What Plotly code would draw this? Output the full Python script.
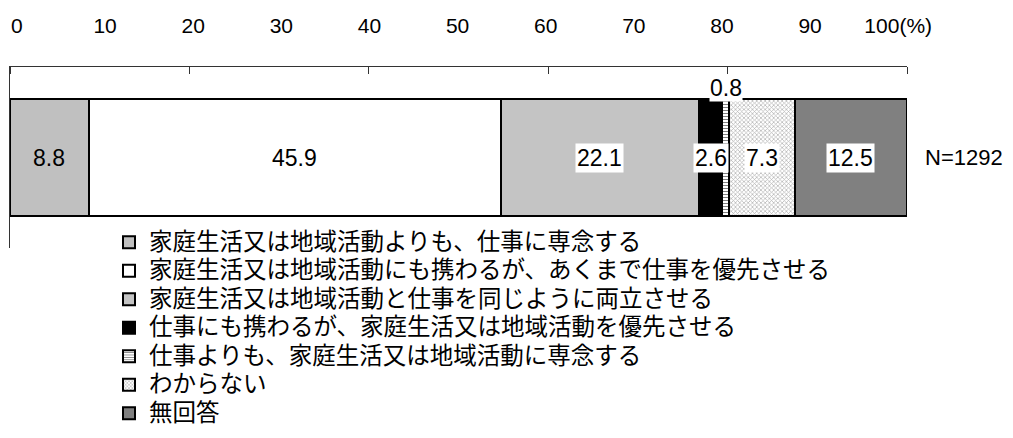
import plotly.graph_objects as go

categories = ["家庭生活又は地域活動よりも、仕事に専念する",
              "家庭生活又は地域活動にも携わるが、あくまで仕事を優先させる",
              "家庭生活又は地域活動と仕事を同じように両立させる",
              "仕事にも携わるが、家庭生活又は地域活動を優先させる",
              "仕事よりも、家庭生活又は地域活動に専念する",
              "わからない",
              "無回答"]
values = [8.8, 45.9, 22.1, 2.6, 0.8, 7.3, 12.5]
tick_values = [0, 10, 20, 30, 40, 50, 60, 70, 80, 90, 100]
tick_labels = ["0", "10", "20", "30", "40", "50", "60", "70", "80", "90", "100(%)"]
sample_label = "N=1292"

styles = [
    dict(color="#c0c0c0"),
    dict(color="#ffffff"),
    dict(color="#ffffff", pattern=dict(shape=".", fgcolor="#555555", size=2, solidity=0.7)),
    dict(color="#000000"),
    dict(color="#ffffff", pattern=dict(shape="-", fgcolor="#000000", size=3, solidity=0.35)),
    dict(color="#ffffff", pattern=dict(shape="x", fgcolor="#606060", size=3, solidity=0.4)),
    dict(color="#808080"),
]

BAR_W = 0.65
fig = go.Figure()
for name, v, st in zip(categories, values, styles):
    fig.add_trace(go.Bar(
        y=[0], x=[v], name=f'<span style="font-size:23.5px">{name}</span>',
        orientation="h", width=BAR_W,
        marker=dict(line=dict(color="black", width=2), **st),
        hovertemplate=f"{name}: %{{x}}<extra></extra>",
    ))

# invisible trace so that the header label axis (x2) is drawn
fig.add_trace(go.Scatter(x=[None], y=[None], xaxis="x2", yaxis="y", mode="markers",
                         showlegend=False, hoverinfo="skip"))

LABEL_FONT = dict(family="Liberation Sans, Arial", size=23, color="black")
cum = 0
label_bg = ["rgba(0,0,0,0)", "rgba(0,0,0,0)", "white", "white", "white", "white", "white"]
for i, v in enumerate(values):
    mid = cum + v / 2
    cum += v
    if v < 1.5:
        fig.add_annotation(x=mid, y=BAR_W / 2, text=f"{v:.1f}", showarrow=False,
                           yanchor="middle", yshift=11, bgcolor="white", borderpad=0,
                           font=LABEL_FONT)
    else:
        fig.add_annotation(x=mid, y=0, text=f"{v:.1f}", showarrow=False,
                           bgcolor=label_bg[i], borderpad=1, font=LABEL_FONT)

fig.add_annotation(x=1, xref="paper", y=0, text=sample_label, showarrow=False,
                   xanchor="left", xshift=16,
                   font=dict(family="Liberation Sans, Arial", size=22, color="black"))

fig.update_layout(
    barmode="stack",
    width=1005, height=430,
    margin=dict(l=2, r=106, t=59, b=190, autoexpand=False),
    plot_bgcolor="white", paper_bgcolor="white",
    font=dict(family="Liberation Sans, Arial", color="black"),
    xaxis=dict(range=[0, 100], side="top", showticklabels=False,
               ticks="", showgrid=False, zeroline=False, showline=True,
               linecolor="#333333", linewidth=1,
               minor=dict(tickvals=[0, 20, 40, 60, 80, 100], ticks="inside", ticklen=7,
                          tickcolor="#333333", tickwidth=1, showgrid=False)),
    # label scale of the original header row (slightly offset from the bar scale)
    xaxis2=dict(overlaying="x", anchor="y", side="top", range=[-0.79, 101.0],
                tickvals=tick_values, ticktext=tick_labels, ticks="",
                showgrid=False, zeroline=False, showline=False,
                ticklabelstandoff=29, tickangle=0, ticklabeloverflow="allow",
                tickfont=dict(family="Liberation Sans, Arial", size=21, color="black")),
    yaxis=dict(range=[-0.5, 0.5], showticklabels=False, showgrid=False, zeroline=False,
               showline=True, linecolor="#333333", linewidth=1,
               tickvals=[-0.5], ticks="inside", ticklen=6, tickcolor="#333333"),
    legend=dict(x=99 / 897, y=0.138, maxheight=400,
                xanchor="left", yanchor="top", traceorder="normal",
                font=dict(family="Noto Sans CJK JP", size=19.6, color="black"),
                bgcolor="rgba(0,0,0,0)", itemclick=False),
    showlegend=True,
)

fig.write_html("out.html")
